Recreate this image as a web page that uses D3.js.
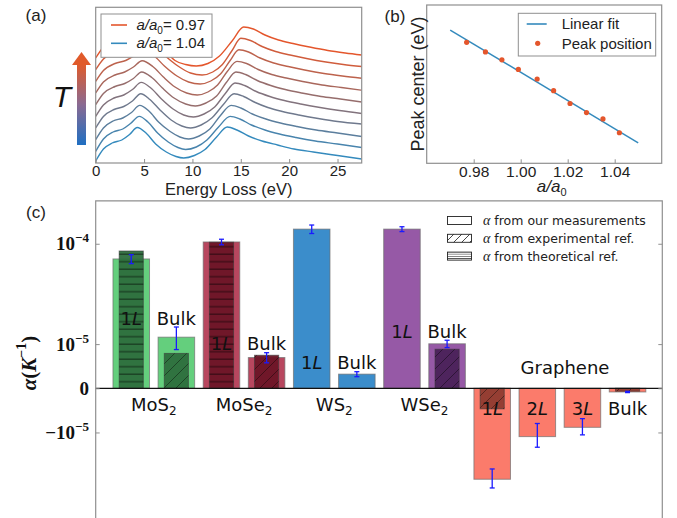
<!DOCTYPE html>
<html>
<head>
<meta charset="utf-8">
<script src="https://cdn.jsdelivr.net/npm/d3@7"></script>
<style>
  body { margin: 0; background: #fff; }
  svg { display: block; }
</style>
</head>
<body>
<svg width="677" height="518"></svg>
<script>
// ---------- (a) EELS spectra, bottom (a/a0 = 1.04) to top (a/a0 = 0.97); [energy (eV), intensity (a.u., offset)]
const spectra = [
  [[0,2],[0.8,14],[1.7,20],[2.7,23],[3.5,28.5],[4.3,35.5],[5.2,30],[6.2,19],[7.3,11],[8.3,6.5],[9.1,5],[10.2,7.5],[11.3,13.5],[12.5,26],[13.6,36],[14.6,33],[15.8,27],[17.2,22],[18.8,18],[20.5,14],[22.5,11],[25,7.5],[27.5,4]],
  [[0,11.6],[0.8,24],[1.8,31],[2.8,34],[3.6,39.5],[4.5,46.6],[5.4,41],[6.4,30],[7.5,21],[8.5,15.5],[9.3,13.5],[10.4,16],[11.5,23],[12.7,36],[13.9,46.6],[14.9,44],[16.1,38],[17.5,33],[19,29],[20.7,25.5],[22.7,22],[25,19],[27.5,15.5]],
  [[0,23.3],[0.8,35],[1.8,42],[2.8,45],[3.7,50.5],[4.55,57.6],[5.5,52],[6.5,41],[7.7,31.5],[8.7,26],[9.6,24],[10.7,27],[11.8,34],[12.9,47.5],[14,57.6],[15,55],[16.2,49],[17.6,44],[19.1,40],[20.8,36.5],[22.8,33],[25,30],[27.5,26.5]],
  [[0,35],[0.8,46.5],[1.9,53.5],[2.9,56.5],[3.8,62],[4.65,69.3],[5.6,63.5],[6.7,52.5],[7.8,43],[8.9,37],[9.8,35],[10.9,38],[12,45],[13.2,58.5],[14.3,69.3],[15.3,66.5],[16.5,60.5],[17.8,55.5],[19.3,51.5],[21,48],[23,44.5],[25,41.5],[27.5,39]],
  [[0,46.6],[0.8,58],[1.9,65],[2.9,68],[3.8,73.5],[4.7,80.6],[5.7,75],[6.8,64],[8,54],[9.1,48],[10.1,46],[11.2,49],[12.3,56],[13.4,69.5],[14.4,80],[15.4,77.5],[16.6,71.5],[18,66.5],[19.5,62.5],[21.2,59],[23.2,55.5],[25.2,52.5],[27.5,49.5]],
  [[0,58.3],[0.8,69.5],[2,76.5],[3,79.5],[3.9,84.5],[4.75,91],[5.8,85.5],[6.9,75],[8.1,65],[9.3,59],[10.3,57],[11.4,60],[12.5,67],[13.5,80.5],[14.5,91],[15.5,88.5],[16.7,82.5],[18.1,77.5],[19.6,73.5],[21.3,70],[23.3,66.5],[25.3,64],[27.5,61]],
  [[0,70],[0.8,81],[2,88],[3,91],[3.9,96],[4.8,102.3],[5.9,96.5],[7,86],[8.2,76],[9.4,70],[10.5,68],[11.6,71],[12.6,78],[13.6,91.5],[14.6,101.6],[15.6,99.5],[16.8,93.5],[18.2,88.5],[19.7,85],[21.4,81.5],[23.4,78],[25.4,75.5],[27.5,72.8]],
  [[0,81.7],[0.8,92.5],[2,99.5],[3.1,102.5],[4,107.5],[4.9,113.3],[6,107.5],[7.1,97],[8.4,87],[9.6,81],[10.8,79],[11.9,82],[12.9,89],[13.9,102.5],[14.8,113.3],[15.8,111],[17,105],[18.4,100],[19.9,96.5],[21.6,93],[23.6,89.5],[25.5,87],[27.5,84.8]],
  [[0,93.3],[0.8,104],[2,111],[3.1,114],[4,119],[4.9,124],[6,118],[7.2,107],[8.5,97],[9.8,90],[11,88],[12.1,91],[13.1,98.5],[14.1,112.5],[15,124.7],[16,122.5],[17.2,116.5],[18.6,111.5],[20.1,108],[21.8,104.5],[23.8,101],[25.6,98.5],[27.5,96.5]],
  [[0,105],[0.8,116],[2,123],[3.1,126],[4.1,131],[5,135],[6.1,126],[7.2,112],[8.2,102.5],[9.3,98.5],[10.4,97],[11.6,99.5],[12.8,107],[14.1,122],[15.3,136],[16.3,134],[17.5,128],[18.9,123],[20.4,119.5],[22.1,116],[24,112.5],[25.8,110],[27.5,108]]
];
const energyTicks = [0, 5, 10, 15, 20, 25];
const ratioLegend = ["0.97", "1.04"];

// ---------- (b) peak centre vs lattice ratio
const latticeRatio = [0.977, 0.985, 0.992, 0.999, 1.007, 1.014, 1.021, 1.028, 1.035, 1.042];
const peakCenter = [15.45, 15.27, 15.12, 14.94, 14.76, 14.54, 14.30, 14.13, 14.01, 13.75];
const fitRatio = [0.97, 1.05];
const fitCenter = [15.68, 13.56];
const ratioTicks = [0.98, 1.00, 1.02, 1.04];

// ---------- (c) thermal expansion coefficients
const barKeys = ["MoS2-1L", "MoS2-Bulk", "MoSe2-1L", "MoSe2-Bulk", "WS2-1L", "WS2-Bulk", "WSe2-1L", "WSe2-Bulk", "Gr-1L", "Gr-2L", "Gr-3L", "Gr-Bulk"];
const barMaterial = ["MoS2", "MoS2", "MoSe2", "MoSe2", "WS2", "WS2", "WSe2", "WSe2", "Gr", "Gr", "Gr", "Gr"];
const barLayer = ["1", "Bulk", "1", "Bulk", "1", "Bulk", "1", "Bulk", "1", "2", "3", "Bulk"];
const measured = [7.45e-5, 1.24e-5, 1.035e-4, 6.1e-6, 1.32e-4, 2.4e-6, 1.32e-4, 1.01e-5, -3.37e-5, -1.14e-5, -8.4e-6, -5.7e-7];
const measuredErr = [6.5e-6, 4.1e-6, 5.5e-6, 1.3e-6, 1.05e-5, 4.8e-7, 6e-6, 1.2e-6, 7e-6, 4.1e-6, 2.4e-6, 1e-7];
const reference = [8.7e-5, 7.2e-6, 1.03e-4, 6.7e-6, null, null, null, 8.4e-6, -3.7e-6, null, null, -4.5e-7];
const referenceType = ["theo", "exp", "theo", "exp", null, null, null, "exp", "exp", null, null, "exp"];
const groupNames = ["MoS", "MoSe", "WS", "WSe"];
const alphaTicks = [1e-4, 1e-5, 0, -1e-5];
const legendItems = ["from our measurements", "from experimental ref.", "from theoretical ref."];

const blue = "#348ABD", red = "#E4562C", spine = "#8f8f8f";
const sans = "'Liberation Sans', Arial, sans-serif";
const dejavu = "'DejaVu Sans', sans-serif";
const serif = "'Liberation Serif', 'Times New Roman', serif";
const matColor = { MoS2: "#64cf7d", MoSe2: "#b8475f", WS2: "#3b8dcb", WSe2: "#9659a6", Gr: "#fb7b6b" };
const refColor = { MoS2: "#2d6e3d", MoSe2: "#6b1526", WSe2: "#4a2259", Gr: "#8f3b30" };

const svg = d3.select("svg");
const defs = svg.append("defs");

// ================= (a) =================
const xA = d3.scaleLinear().domain([0, 27.5]).range([95.7, 361.7]);
const yA = d3.scaleLinear().domain([0, 155.7]).range([163, 7.3]);
defs.append("clipPath").attr("id", "clipA").append("rect")
  .attr("x", xA(0)).attr("y", yA(155.7)).attr("width", xA(27.5) - xA(0)).attr("height", yA(0) - yA(155.7));

const gA = svg.append("g");
const curveColor = d3.scaleLinear().domain([0, spectra.length - 1]).range([blue, red]).interpolate(d3.interpolateRgb);
const lineA = d3.line().x(d => xA(d[0])).y(d => yA(d[1])).curve(d3.curveMonotoneX);

gA.append("g").attr("clip-path", "url(#clipA)")
  .selectAll("path").data(spectra).join("path")
  .attr("d", lineA)
  .attr("fill", "none")
  .attr("stroke", (d, i) => curveColor(i))
  .attr("stroke-width", 1.4);

gA.append("rect")
  .attr("x", xA(0)).attr("y", yA(155.7)).attr("width", xA(27.5) - xA(0)).attr("height", yA(0) - yA(155.7))
  .attr("fill", "none").attr("stroke", spine).attr("stroke-width", 1.2);

const axA = gA.append("g").attr("transform", `translate(0,${yA(0)})`)
  .call(d3.axisBottom(xA).tickValues(energyTicks).tickSize(-4).tickPadding(2.5));
axA.select(".domain").remove();
axA.selectAll(".tick line").attr("stroke", spine);
axA.selectAll("text").attr("font-family", sans).attr("font-size", 15).attr("fill", "#222");

gA.append("text").attr("x", (xA(0) + xA(27.5)) / 2).attr("y", 195)
  .attr("text-anchor", "middle").attr("font-family", sans).attr("font-size", 16.5).attr("fill", "#222")
  .text("Energy Loss (eV)");

// legend (a)
const legA = gA.append("g");
legA.append("rect").attr("x", 101).attr("y", 14).attr("width", 111).attr("height", 43.3)
  .attr("fill", "#fff").attr("stroke", spine).attr("stroke-width", 1);
ratioLegend.forEach((lab, i) => {
  const ly = 25 + i * 18.3;
  legA.append("line").attr("x1", 111).attr("x2", 127).attr("y1", ly).attr("y2", ly)
    .attr("stroke", i === 0 ? red : blue).attr("stroke-width", 1.6);
  const t = legA.append("text").attr("x", 136.5).attr("y", ly + 5)
    .attr("font-family", sans).attr("font-size", 15).attr("fill", "#222");
  t.append("tspan").attr("font-style", "italic").text("a/a");
  t.append("tspan").attr("font-size", 10).attr("dy", 4).text("0");
  t.append("tspan").attr("dy", -4).text("= " + lab);
});

// T arrow
const grad = defs.append("linearGradient").attr("id", "tgrad")
  .attr("x1", 0).attr("y1", 1).attr("x2", 0).attr("y2", 0);
grad.append("stop").attr("offset", "0%").attr("stop-color", "#1f6fc2");
grad.append("stop").attr("offset", "50%").attr("stop-color", "#8a6a92");
grad.append("stop").attr("offset", "100%").attr("stop-color", "#e05a2a");
svg.append("rect").attr("x", 77).attr("y", 64).attr("width", 9).attr("height", 81).attr("fill", "url(#tgrad)");
svg.append("path").attr("d", "M72,65 L81.5,52 L91,65 Z").attr("fill", "#e05a2a");
svg.append("text").attr("x", 62).attr("y", 107).attr("text-anchor", "middle")
  .attr("font-family", sans).attr("font-style", "italic").attr("font-size", 30).attr("fill", "#111").text("T");

svg.append("text").attr("x", 36).attr("y", 21).attr("text-anchor", "middle")
  .attr("font-family", sans).attr("font-size", 17).attr("fill", "#222").text("(a)");

// ================= (b) =================
const xB = d3.scaleLinear().domain([0.96, 1.06]).range([426.7, 661.7]);
const yB = d3.scaleLinear().domain([13.176, 16.151]).range([163.3, 5]);
const gB = svg.append("g");

gB.append("path")
  .datum(fitRatio.map((r, i) => [r, fitCenter[i]]))
  .attr("d", d3.line().x(d => xB(d[0])).y(d => yB(d[1])))
  .attr("fill", "none").attr("stroke", blue).attr("stroke-width", 1.5);

gB.selectAll("circle").data(latticeRatio).join("circle")
  .attr("cx", d => xB(d)).attr("cy", (d, i) => yB(peakCenter[i])).attr("r", 2.6)
  .attr("fill", red);

gB.append("rect").attr("x", xB(0.96)).attr("y", yB(16.151)).attr("width", xB(1.06) - xB(0.96)).attr("height", yB(13.176) - yB(16.151))
  .attr("fill", "none").attr("stroke", spine).attr("stroke-width", 1.2);

const axB = gB.append("g").attr("transform", `translate(0,${yB(13.176)})`)
  .call(d3.axisBottom(xB).tickValues(ratioTicks).tickFormat(d3.format(".2f")).tickSize(-4).tickPadding(3));
axB.select(".domain").remove();
axB.selectAll(".tick line").attr("stroke", spine);
axB.selectAll("text").attr("font-family", sans).attr("font-size", 15.5).attr("fill", "#222");

const xlabB = gB.append("text").attr("x", 551.7).attr("y", 192).attr("text-anchor", "middle")
  .attr("font-family", sans).attr("font-size", 17).attr("fill", "#222");
xlabB.append("tspan").attr("font-style", "italic").text("a/a");
xlabB.append("tspan").attr("font-size", 11).attr("dy", 4).text("0");

gB.append("text").attr("transform", "translate(417.5,84) rotate(-90)")
  .attr("text-anchor", "middle").attr("dominant-baseline", "central")
  .attr("font-family", sans).attr("font-size", 18).attr("fill", "#222").text("Peak center (eV)");

const legB = gB.append("g");
legB.append("rect").attr("x", 518.3).attr("y", 13.3).attr("width", 137.4).attr("height", 42.7)
  .attr("fill", "#fff").attr("stroke", spine).attr("stroke-width", 1);
legB.append("line").attr("x1", 526.7).attr("x2", 546.7).attr("y1", 24).attr("y2", 24)
  .attr("stroke", blue).attr("stroke-width", 1.6);
legB.append("circle").attr("cx", 537.7).attr("cy", 43.3).attr("r", 2.6).attr("fill", red);
legB.append("text").attr("x", 561.7).attr("y", 29.3).attr("font-family", sans).attr("font-size", 15).attr("fill", "#222").text("Linear fit");
legB.append("text").attr("x", 561.7).attr("y", 48.6).attr("font-family", sans).attr("font-size", 15).attr("fill", "#222").text("Peak position");

svg.append("text").attr("x", 395).attr("y", 22).attr("text-anchor", "middle")
  .attr("font-family", sans).attr("font-size", 17).attr("fill", "#222").text("(b)");

// ================= (c) =================
const xC = d3.scaleBand().domain(barKeys).range([104.4, 654.4]).padding(0.19);
const yC = d3.scaleSymlog().constant(8.47e-6).domain([-1e-4, 2.23e-4]).range([532.8, 200.8]);
const cLeft = 95.7, cRight = 662.3, cTop = 200.8;
const bw = xC.bandwidth();
const gC = svg.append("g");

// hatch patterns
const pExp = defs.append("pattern").attr("id", "hatchExp").attr("patternUnits", "userSpaceOnUse")
  .attr("width", 12).attr("height", 12);
pExp.append("path").attr("d", "M-3,3 L3,-3 M0,12 L12,0 M9,15 L15,9")
  .attr("stroke", "rgba(0,0,0,0.45)").attr("stroke-width", 0.9);
const pTheo = defs.append("pattern").attr("id", "hatchTheo").attr("patternUnits", "userSpaceOnUse")
  .attr("width", 10).attr("height", 7.5);
pTheo.append("path").attr("d", "M0,6.7 H10").attr("stroke", "rgba(0,0,0,0.55)").attr("stroke-width", 1.1);
const pExpL = defs.append("pattern").attr("id", "hatchExpL").attr("patternUnits", "userSpaceOnUse")
  .attr("width", 8).attr("height", 8);
pExpL.append("path").attr("d", "M-2,2 L2,-2 M0,8 L8,0 M6,10 L10,6").attr("stroke", "#333").attr("stroke-width", 0.9);
const pTheoL = defs.append("pattern").attr("id", "hatchTheoL").attr("patternUnits", "userSpaceOnUse")
  .attr("width", 8).attr("height", 2.2);
pTheoL.append("path").attr("d", "M0,1.1 H8").attr("stroke", "#333").attr("stroke-width", 0.7);

const barTop = v => Math.min(yC(0), yC(v));
const barH = v => Math.abs(yC(v) - yC(0));

// measured bars
gC.selectAll("rect.meas").data(barKeys).join("rect").attr("class", "meas")
  .attr("x", d => xC(d)).attr("width", bw)
  .attr("y", (d, i) => barTop(measured[i])).attr("height", (d, i) => barH(measured[i]))
  .attr("fill", (d, i) => matColor[barMaterial[i]])
  .attr("stroke", "#6f6f6f").attr("stroke-opacity", 0.7).attr("stroke-width", 1);

// reference bars (inner, hatched)
const refIdx = barKeys.map((d, i) => i).filter(i => reference[i] !== null);
const innerW = bw * 0.66;
gC.selectAll("rect.ref").data(refIdx).join("rect").attr("class", "ref")
  .attr("x", i => xC(barKeys[i]) + (bw - innerW) / 2).attr("width", innerW)
  .attr("y", i => barTop(reference[i])).attr("height", i => barH(reference[i]))
  .attr("fill", i => refColor[barMaterial[i]]).attr("fill-opacity", 0.95)
  .attr("stroke", "#3a3a3a").attr("stroke-opacity", 0.6).attr("stroke-width", 1);
gC.selectAll("rect.refh").data(refIdx).join("rect").attr("class", "refh")
  .attr("x", i => xC(barKeys[i]) + (bw - innerW) / 2).attr("width", innerW)
  .attr("y", i => barTop(reference[i])).attr("height", i => barH(reference[i]))
  .attr("fill", i => referenceType[i] === "exp" ? "url(#hatchExp)" : "url(#hatchTheo)");

// error bars
const errG = gC.selectAll("g.err").data(barKeys).join("g").attr("class", "err")
  .attr("stroke", "#1a1aff").attr("stroke-width", 1.3);
errG.append("line")
  .attr("x1", d => xC(d) + bw / 2).attr("x2", d => xC(d) + bw / 2)
  .attr("y1", (d, i) => yC(measured[i] - measuredErr[i])).attr("y2", (d, i) => yC(measured[i] + measuredErr[i]));
[-1, 1].forEach(s => {
  errG.append("line")
    .attr("x1", d => xC(d) + bw / 2 - 2.5).attr("x2", d => xC(d) + bw / 2 + 2.5)
    .attr("y1", (d, i) => yC(measured[i] + s * measuredErr[i])).attr("y2", (d, i) => yC(measured[i] + s * measuredErr[i]));
});

// zero line and spines
gC.append("line").attr("x1", cLeft).attr("x2", cRight).attr("y1", yC(0)).attr("y2", yC(0))
  .attr("stroke", "#111").attr("stroke-width", 1.3);
gC.append("path").attr("d", `M${cLeft},530 V${cTop} H${cRight} V530`)
  .attr("fill", "none").attr("stroke", spine).attr("stroke-width", 1.2);

// y ticks
const axC = gC.append("g").attr("transform", `translate(${cLeft},0)`)
  .call(d3.axisLeft(yC).tickValues(alphaTicks).tickSize(-4).tickFormat(""));
axC.select(".domain").remove();
axC.selectAll(".tick line").attr("stroke", spine);
const axCR = gC.append("g").attr("transform", `translate(${cRight},0)`)
  .call(d3.axisRight(yC).tickValues(alphaTicks).tickSize(-4).tickFormat(""));
axCR.select(".domain").remove();
axCR.selectAll(".tick line").attr("stroke", spine);

alphaTicks.forEach(v => {
  const t = gC.append("text").attr("x", 89).attr("y", yC(v) + 6.5).attr("text-anchor", "end")
    .attr("font-family", serif).attr("font-weight", "bold").attr("font-size", 19).attr("fill", "#111");
  if (v === 0) { t.text("0"); return; }
  const exp = Math.round(Math.log10(Math.abs(v)));
  t.append("tspan").text((v < 0 ? "\u2212" : "") + "10");
  t.append("tspan").attr("font-size", 13).attr("dy", -8).text("\u2212" + Math.abs(exp));
});

const ylabC = gC.append("text").attr("transform", "translate(29,363) rotate(-90)")
  .attr("text-anchor", "middle").attr("dominant-baseline", "central")
  .attr("font-family", serif).attr("font-weight", "bold").attr("font-size", 21).attr("fill", "#111");
ylabC.append("tspan").attr("font-style", "italic").text("\u03b1");
ylabC.append("tspan").text("(");
ylabC.append("tspan").attr("font-style", "italic").text("K");
ylabC.append("tspan").attr("font-size", 14).attr("dy", -8).text("\u22121");
ylabC.append("tspan").attr("dy", 8).text(")");

// category labels
groupNames.forEach((g, gi) => {
  const cx = (xC(barKeys[2 * gi]) + xC(barKeys[2 * gi + 1]) + bw) / 2;
  const t = gC.append("text").attr("x", cx).attr("y", 411).attr("text-anchor", "middle")
    .attr("font-family", dejavu).attr("font-size", 18).attr("fill", "#111");
  t.append("tspan").text(g);
  t.append("tspan").attr("font-size", 12).attr("dy", 4).text("2");
});

// layer labels
barKeys.forEach((k, i) => {
  let ly;
  if (barMaterial[i] === "Gr") ly = 415;
  else {
    const b = i - (i % 2) + 1;
    ly = yC(measured[b] + measuredErr[b]) - 2.5;
  }
  const t = gC.append("text").attr("x", xC(k) + bw / 2).attr("y", ly).attr("text-anchor", "middle")
    .attr("font-family", dejavu).attr("font-size", 18).attr("fill", "#111");
  if (barLayer[i] === "Bulk") t.text("Bulk");
  else {
    t.append("tspan").text(barLayer[i]);
    t.append("tspan").attr("font-style", "italic").text("L");
  }
});

gC.append("text").attr("x", 565).attr("y", 374).attr("text-anchor", "middle")
  .attr("font-family", dejavu).attr("font-size", 18).attr("fill", "#111").text("Graphene");

// legend (c)
const legFills = ["#fff", "url(#hatchExpL)", "url(#hatchTheoL)"];
legendItems.forEach((lab, i) => {
  const ly = 220.5 + i * 17.8;
  gC.append("rect").attr("x", 447.5).attr("y", ly - 4).attr("width", 24).attr("height", 8)
    .attr("fill", legFills[i]).attr("stroke", "#222").attr("stroke-width", 0.9);
  const t = gC.append("text").attr("x", 483).attr("y", ly + 4.5)
    .attr("font-family", dejavu).attr("font-size", 12.5).attr("fill", "#222");
  t.append("tspan").attr("font-family", serif).attr("font-style", "italic").attr("font-size", 14).text("\u03b1");
  t.append("tspan").text(" " + lab);
});

svg.append("text").attr("x", 36).attr("y", 217.5).attr("text-anchor", "middle")
  .attr("font-family", sans).attr("font-size", 17).attr("fill", "#222").text("(c)");
</script>
</body>
</html>
